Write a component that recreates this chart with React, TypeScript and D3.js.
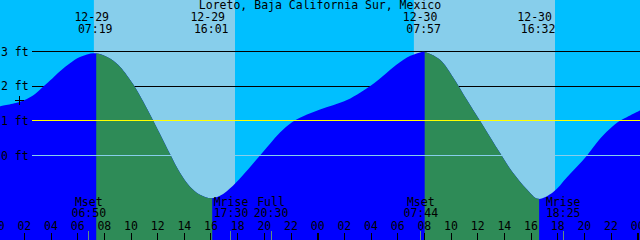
import React from "react";
import * as d3 from "d3";

const W = 640;
const H = 240;

const title = "Loreto, Baja California Sur, Mexico";

// tide curve: hours from 12-29 00:00, height in feet
const tideHours = [0.175, 1.675, 2.65, 3.4, 3.925, 4.675, 5.425, 6.175, 7.317, 8.425, 9.175, 10.15, 10.675, 11.65, 12.175, 12.925, 13.675, 14.425, 15.175, 16.017, 16.675, 17.65, 18.55, 19.675, 20.65, 21.175, 22.075, 23.2, 24.175, 25.15, 26.2, 27.175, 28.075, 28.675, 29.65, 30.7, 31.675, 31.95, 33.175, 34.15, 35.2, 36.175, 37.15, 37.8, 38.65, 39.7, 40.533, 41.65, 42.7, 44.2, 45.175, 46.15, 46.675, 48.175];
const tideFeet = [1.42, 1.55, 1.73, 1.98, 2.16, 2.43, 2.66, 2.84, 2.95, 2.8, 2.56, 2.06, 1.72, 1.02, 0.62, 0.04, -0.5, -0.9, -1.13, -1.23, -1.16, -0.87, -0.5, 0.0, 0.44, 0.66, 0.96, 1.18, 1.33, 1.45, 1.6, 1.81, 2.04, 2.22, 2.54, 2.83, 2.97, 2.99, 2.76, 2.26, 1.6, 1.0, 0.4, 0.0, -0.5, -0.98, -1.25, -1.06, -0.63, 0.0, 0.48, 0.85, 1.0, 1.3];

const extremeDates = ["12-29", "12-29", "12-30", "12-30"];
const extremeTimes = ["07:19", "16:01", "07:57", "16:32"];
const extremeDays = [0, 0, 1, 1];
const extremeTypes = ["High", "Low", "High", "Low"];

const sunriseTimes = ["07:13", "07:13"];
const sunsetTimes = ["17:48", "17:48"];
const sunDays = [0, 1];

const moonLabels = ["Mset", "Mrise", "Full", "Mset", "Mrise"];
const moonTimes = ["06:50", "17:30", "20:30", "07:44", "18:25"];
const moonDays = [0, 0, 0, 1, 1];

const axisLevels = [3, 2, 1, 0];
const axisLabels = ["3 ft", "2 ft", "1 ft", "0 ft"];
const depthLevels = [3, 2];
const mslLevel = 1;
const datumLevel = 0;
const markHour = 1.6;
const markFeet = 1.6;

const hourTicks = d3.range(0, 50, 2);
const chartStart = 0.175;
const chartEnd = 48.175;

const toHour = (t: string, day: number) => {
  const [hh, mm] = t.split(":").map(Number);
  return day * 24 + hh + mm / 60;
};

const FONT = "DejaVu Sans Mono";
const FS = 11.5;

export default function App() {
  const x = d3.scaleLinear().domain([chartStart, chartEnd]).range([0, W]);
  const y = d3.scaleLinear().domain([0, 3]).range([155.5, 51.5]);
  const crisp = (v: number) => Math.round(v - 0.5) + 0.5;

  const pts = tideHours.map((h, i) => [h, tideFeet[i]] as [number, number]);
  const area = d3
    .area<[number, number]>()
    .x((d) => x(d[0]))
    .y0(H)
    .y1((d) => y(d[1]))
    .curve(d3.curveCatmullRom.alpha(0.5))(pts) as string;

  const ebb: [number, number][] = [];
  extremeTypes.forEach((t, i) => {
    if (t === "High") {
      const a = toHour(extremeTimes[i], extremeDays[i]);
      const b = i + 1 < extremeTimes.length ? toHour(extremeTimes[i + 1], extremeDays[i + 1]) : chartEnd;
      ebb.push([a, b]);
    }
  });

  const lineStart = 32;

  return (
    <>
      <style>{`body{margin:0}`}</style>
      <svg width={W} height={H} style={{ display: "block" }} fontFamily={FONT} fontSize={FS}>
        <defs>
          <clipPath id="ebbClip">
            {ebb.map(([a, b], i) => (
              <rect key={i} x={x(a) + 1} y={0} width={x(b) - x(a)} height={H} />
            ))}
          </clipPath>
        </defs>
        <rect x={0} y={0} width={W} height={H} fill="#00BFFF" />
        {sunDays.map((d, i) => {
          const a = x(toHour(sunriseTimes[i], d));
          const b = x(toHour(sunsetTimes[i], d));
          return <rect key={i} x={a} y={0} width={b - a} height={H} fill="#87CEEB" />;
        })}
        {depthLevels.map((lv) => (
          <line key={lv} x1={lineStart} x2={W} y1={crisp(y(lv))} y2={crisp(y(lv))} stroke="#000" strokeWidth={1} />
        ))}
        <path d={area} fill="#0000FF" />
        <path d={area} fill="#2E8B57" clipPath="url(#ebbClip)" />
        <line x1={lineStart} x2={W} y1={crisp(y(mslLevel))} y2={crisp(y(mslLevel))} stroke="#FFFF00" strokeWidth={1} />
        <line x1={lineStart} x2={W} y1={crisp(y(datumLevel))} y2={crisp(y(datumLevel))} stroke="#87CEEB" strokeWidth={1} />
        <g stroke="#000" strokeWidth={1}>
          <line x1={crisp(x(markHour)) - 4.5} x2={crisp(x(markHour)) + 4.5} y1={crisp(y(markFeet))} y2={crisp(y(markFeet))} />
          <line x1={crisp(x(markHour))} x2={crisp(x(markHour))} y1={crisp(y(markFeet)) - 4.5} y2={crisp(y(markFeet)) + 4.5} />
        </g>
        {axisLevels.map((lv, i) => (
          <text key={lv} x={1} y={Math.round(y(lv)) + 4} fill="#000">
            {axisLabels[i]}
          </text>
        ))}
        <text x={W / 2} y={9} textAnchor="middle" fill="#000">
          {title}
        </text>
        {extremeTimes.map((t, i) => {
          const px = x(toHour(t, extremeDays[i]));
          return (
            <g key={i} fill="#000" textAnchor="middle">
              <text x={px - 3.5} y={21}>{extremeDates[i]}</text>
              <text x={px} y={33}>{t}</text>
            </g>
          );
        })}
        {moonTimes.map((t, i) => {
          const px = x(toHour(t, moonDays[i]));
          return (
            <g key={i}>
              <line x1={crisp(px)} x2={crisp(px)} y1={231} y2={H} stroke="#5f8f80" strokeWidth={1} />
              <text x={px} y={206} textAnchor="middle" fill="#000">{moonLabels[i]}</text>
              <text x={px} y={217} textAnchor="middle" fill="#000">{t}</text>
            </g>
          );
        })}
        {hourTicks.map((h) => {
          const px = x(h);
          const midnight = h % 24 === 0;
          return (
            <g key={h}>
              <line
                x1={midnight ? Math.round(px) : crisp(px)}
                x2={midnight ? Math.round(px) : crisp(px)}
                y1={233}
                y2={H}
                stroke="#000"
                strokeWidth={midnight ? 2 : 1}
              />
              <text x={px} y={230} textAnchor="middle" fill="#000">
                {String(h % 24).padStart(2, "0")}
              </text>
            </g>
          );
        })}
      </svg>
    </>
  );
}
